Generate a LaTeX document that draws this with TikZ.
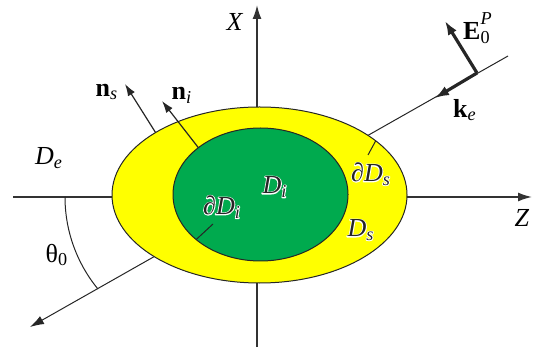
\documentclass[tikz,border=0pt]{standalone}
\usepackage{fontspec}
\setmainfont{Liberation Serif}
\usetikzlibrary{arrows.meta,shapes.geometric}
\definecolor{shellyellow}{RGB}{255,255,0}
\definecolor{coregreen}{RGB}{0,170,78}
\tikzset{
  axis/.style={line width=0.8pt,black!80,-{Latex[length=7pt,width=4.5pt]}},
  ray/.style={line width=0.5pt,black!85},
  fat/.style={line width=1.6pt,black!85,-{Latex[length=7pt,width=5pt]}},
  normal/.style={line width=0.6pt,black!85,-{Latex[length=6pt,width=4pt]}},
  body/.style={ellipse,draw=black!85,line width=0.5pt,inner sep=0pt,outer sep=0pt}
}
% dark letters on a white rim
\newcommand{\inlbl}[1]{\rlap{\special{pdf:code q 1 Tr 0.9 w 1 J 1 j 1 1 1 RG}#1\special{pdf:code Q}}#1}
\newcommand{\ssub}[2]{#1\textsubscript{\textit{#2}}}

\begin{document}
\begin{tikzpicture}[x=0.5pt,y=0.5pt]\fontsize{13}{15}\selectfont
  \useasboundingbox (0,0) rectangle (533,347);
  % axes and incident direction
  \coordinate (O) at (257,150);
  \coordinate (xtop) at (257,342);
  \coordinate (xbot) at (257,0);
  \coordinate (zleft) at (13,150);
  \coordinate (zright) at (532,150);
  \coordinate (kfar) at (508,291);
  \coordinate (kout) at (30,20);
  \draw[axis] (xbot) -- (xtop);
  \draw[axis] (zleft) -- (zright);
  \draw[ray,-{Latex[length=7pt,width=4.5pt]}] (kfar) -- (kout);
  \draw[ray] (65,150) arc[start angle=180,end angle=219.4,radius=145];
  % scatterer
  \node[body,fill=shellyellow,minimum width=147.5pt,minimum height=88pt] (shell) at (259.5,152) {};
  \node[body,fill=coregreen,minimum width=87.5pt,minimum height=66.5pt] (core) at (260.5,152.5) {};
  % normals and boundary marks
  \coordinate (nstip) at (125,263);
  \coordinate (nitip) at (162,246);
  \draw[normal] (shell.149.8) -- (nstip);
  \draw[normal] (core.143.4) -- (nitip);
  \coordinate (dsend) at (368,192);
  \coordinate (diend) at (213,123);
  \draw[ray] (shell.25.7) -- (dsend);
  \draw[ray] (core.215.6) -- (diend);
  % incident field
  \coordinate (kfoot) at (477,274);
  \coordinate (ktip) at (435,249);
  \coordinate (etip) at (445,326);
  \draw[fat] (kfoot) -- (ktip);
  \draw[fat] (kfoot) -- (etip);
  % labels
  \node (xlbl) at (235,325) {\textit{X}};
  \node (zlbl) at (522,129) {\textit{Z}};
  \node (delbl) at (49,189) {\ssub{\textit{D}}{e}};
  \node (nslbl) at (107,255) {\ssub{\textbf{n}}{s}};
  \node (nilbl) at (182,252) {\ssub{\textbf{n}}{i}};
  \node (elbl) at (483,319) {\textbf{E}\rlap{\raisebox{0.6ex}{\textsuperscript{\textit{P}}}}\textsubscript{0}\hphantom{\textsuperscript{\textit{P}}}};
  \node (klbl) at (465,237) {\ssub{\textbf{k}}{e}};
  \node (thlbl) at (57,92) {θ\textsubscript{0}};
  \node[black!85] (dilbl) at (275,160) {\inlbl{\ssub{\textit{D}}{i}}};
  \node[black!85] (ddilbl) at (222,140) {\inlbl{\ssub{\textit{∂D}}{i}}};
  \node[black!85] (ddslbl) at (371,173) {\inlbl{\ssub{\textit{∂D}}{s}}};
  \node[black!85] (dslbl) at (361,117) {\inlbl{\ssub{\textit{D}}{s}}};
\end{tikzpicture}
\end{document}
